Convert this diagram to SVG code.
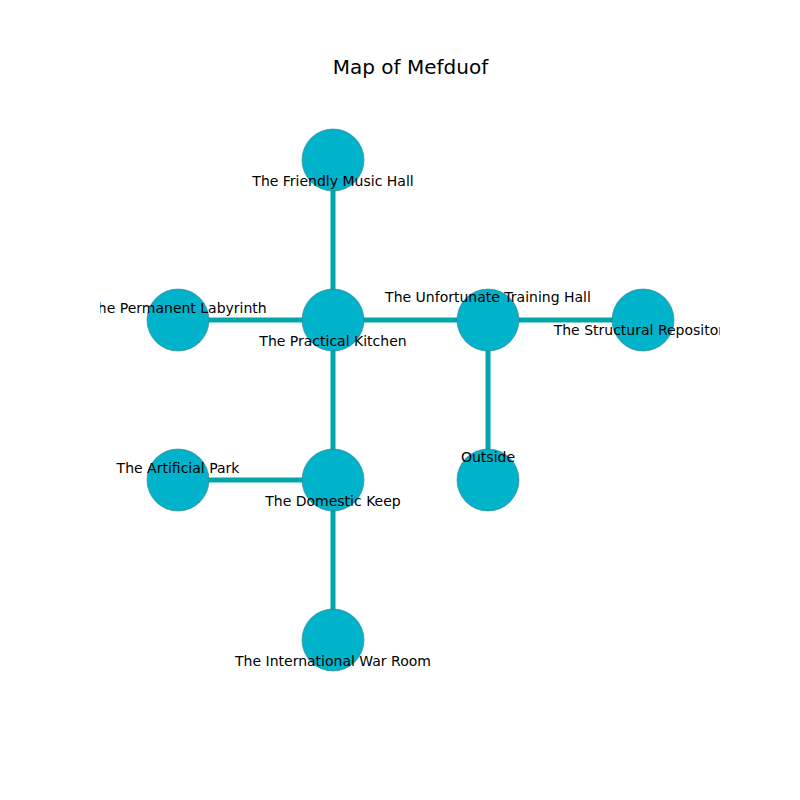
<svg xmlns="http://www.w3.org/2000/svg" width="800" height="800" viewBox="0 0 800 800">
<defs>
<clipPath id="ax"><rect x="100" y="96" width="620" height="616"/></clipPath>
<style>
.edge{stroke:#00A5A8;stroke-width:5;fill:none}
.node{fill:#00B2CA;stroke:#2F7F8A;stroke-width:0.6}
.lbl{font-family:"DejaVu Sans",sans-serif;font-size:14px;fill:#000;text-anchor:middle;dominant-baseline:central}
.title{font-family:"DejaVu Sans",sans-serif;font-size:20px;fill:#000;text-anchor:middle;dominant-baseline:central}
</style>
</defs>
<rect width="800" height="800" fill="#fff"/>
<text class="title" x="410.5" y="67">Map of Mefduof</text>
<g id="edges">
<line class="edge" x1="333" y1="160" x2="333" y2="320"/>
<line class="edge" x1="178" y1="320" x2="333" y2="320"/>
<line class="edge" x1="333" y1="320" x2="488" y2="320"/>
<line class="edge" x1="488" y1="320" x2="643" y2="320"/>
<line class="edge" x1="488" y1="320" x2="488" y2="480"/>
<line class="edge" x1="333" y1="320" x2="333" y2="480"/>
<line class="edge" x1="178" y1="480" x2="333" y2="480"/>
<line class="edge" x1="333" y1="480" x2="333" y2="640"/>
</g>
<g id="n-music"><circle class="node" cx="333" cy="160" r="31"/></g>
<g id="n-labyrinth"><circle class="node" cx="178" cy="320" r="31"/></g>
<g id="n-kitchen"><circle class="node" cx="333" cy="320" r="31"/></g>
<g id="n-training"><circle class="node" cx="488" cy="320" r="31"/></g>
<g id="n-repository"><circle class="node" cx="643" cy="320" r="31"/></g>
<g id="n-park"><circle class="node" cx="178" cy="480" r="31"/></g>
<g id="n-keep"><circle class="node" cx="333" cy="480" r="31"/></g>
<g id="n-outside"><circle class="node" cx="488" cy="480" r="31"/></g>
<g id="n-warroom"><circle class="node" cx="333" cy="640" r="31"/></g>
<g id="labels" clip-path="url(#ax)">
<text class="lbl" x="333" y="181">The Friendly Music Hall</text>
<text class="lbl" x="178" y="308">The Permanent Labyrinth</text>
<text class="lbl" x="333" y="341">The Practical Kitchen</text>
<text class="lbl" x="488" y="297">The Unfortunate Training Hall</text>
<text class="lbl" x="643" y="330">The Structural Repository</text>
<text class="lbl" x="178" y="468">The Artificial Park</text>
<text class="lbl" x="333" y="501">The Domestic Keep</text>
<text class="lbl" x="488" y="457">Outside</text>
<text class="lbl" x="333" y="661">The International War Room</text>
</g>
</svg>
